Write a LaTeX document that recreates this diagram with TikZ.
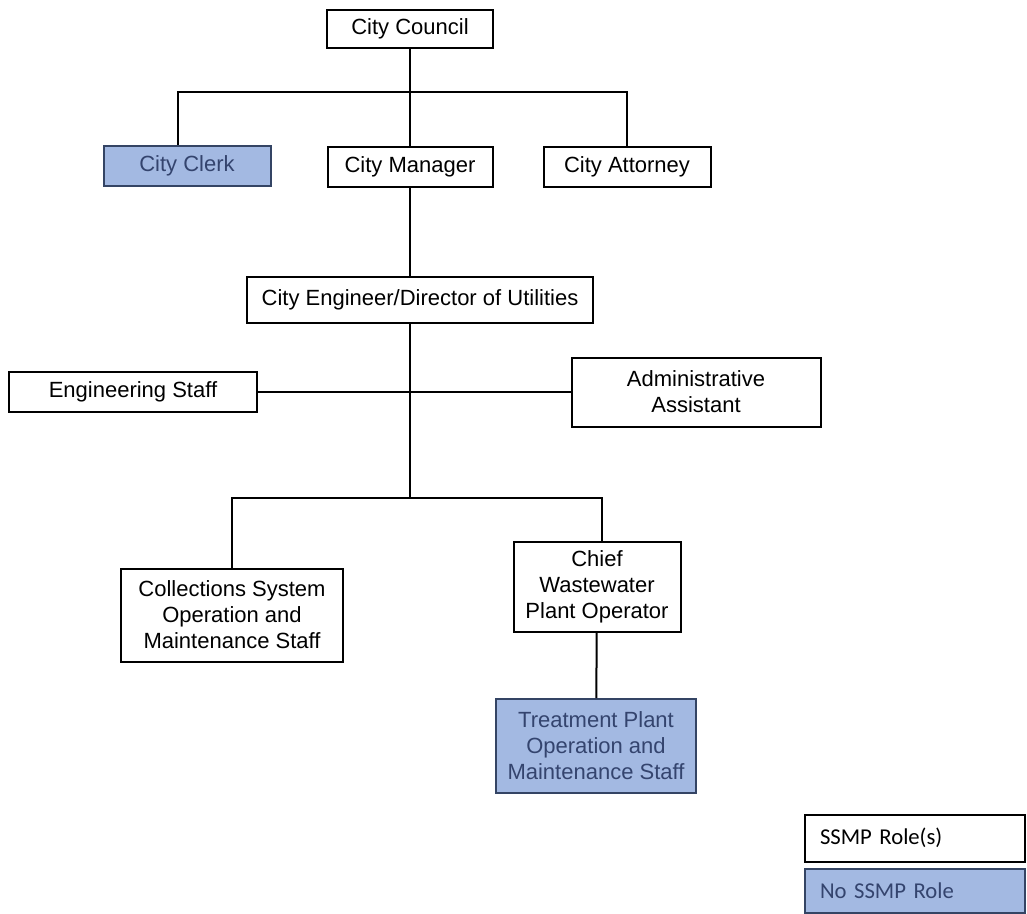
\documentclass[tikz,border=0pt]{standalone}
\usepackage{fontspec}
\setmainfont{Liberation Sans}
\newfontfamily\legendfont{Carlito}
\definecolor{NoRole}{RGB}{163,185,226}
\definecolor{NoRoleLine}{RGB}{52,68,100}
\definecolor{NoRoleText}{RGB}{52,68,110}
\tikzset{
  boxdim/.style 2 args={minimum width=#1*0.75pt, minimum height=#2*0.75pt},
  role/.style={draw=black, fill=white, line width=1.5pt, inner sep=0pt, align=center,
    font=\fontsize{16.5}{19.5}\selectfont},
  norole/.style={role, fill=NoRole, draw=NoRoleLine, text=NoRoleText},
  legendbox/.style={draw=black, fill=white, line width=1.5pt, inner xsep=15*0.75pt,
    inner ysep=0pt, text width=190*0.75pt, align=left, font=\legendfont\fontsize{17}{20}\selectfont},
  link/.style={line width=1.5pt}
}
\begin{document}
\begin{tikzpicture}[x=0.75pt, y=-0.75pt]
\useasboundingbox (0,0) rectangle (1027,913);
% top of the chart
\node[role, boxdim={166}{38}] (council) at (410,29) {City Council};
\node[norole, boxdim={167}{40}] (clerk) at (187,166) {City Clerk};
\node[role, boxdim={165}{39}] (manager) at (410,167) {City Manager};
\node[role, boxdim={167}{39}] (attorney) at (627,167) {City Attorney};
\node[role, boxdim={346}{46}] (engineer) at (420,300) {City Engineer/Director of Utilities};
% staff level
\node[role, boxdim={248}{40}] (engstaff) at (133,392) {Engineering Staff};
\node[role, boxdim={249}{69}] (admin) at (696,392) {Administrative\\Assistant};
\node[role, boxdim={222}{93}] (collections) at (232,615) {Collections System\\Operation and\\Maintenance Staff};
\node[role, boxdim={167}{90}] (chief) at (597,587) {Chief\\Wastewater\\Plant Operator};
\node[norole, boxdim={200}{94}] (treatment) at (596,746) {Treatment Plant\\Operation and\\Maintenance Staff};
% legend
\node[legendbox, minimum height=47*0.75pt] (legrole) at (915,838) {SSMP Role(s)};
\node[legendbox, minimum height=44*0.75pt, fill=NoRole, draw=NoRoleLine, text=NoRoleText] (legnorole) at (915,891) {No SSMP Role};
% connectors
\coordinate (topbus) at (410,92);
\coordinate (midbus) at (410,498);
\draw[link] (council) -- (manager);
\draw[link] ([xshift=-6.75pt]clerk.north) |- (topbus) -| (attorney.north);
\draw[link] (manager.south) -- (manager.south |- engineer.north);
\draw[link] (manager.south |- engineer.south) -- (midbus);
\draw[link] (engstaff) -- (admin);
\draw[link] (collections.north) |- (midbus) -| ([xshift=3.75pt]chief.north);
\draw[link] (chief) -- (treatment);
\end{tikzpicture}
\end{document}
